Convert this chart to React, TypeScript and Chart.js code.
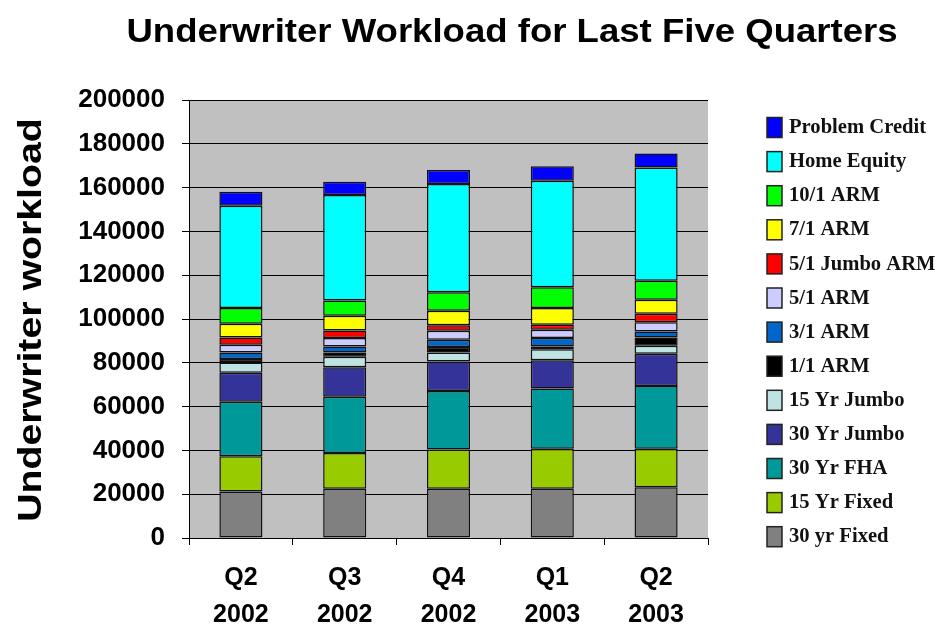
import React, { useEffect, useRef } from "react";
import { Chart, registerables } from "chart.js";

Chart.register(...registerables);

// ---------- data ----------
const chartTitle = "Underwriter Workload for Last Five Quarters";
const yAxisTitle = "Underwriter workload";
const quarters = ["Q2", "Q3", "Q4", "Q1", "Q2"];
const years = ["2002", "2002", "2002", "2003", "2003"];
const yTickValues = [0, 20000, 40000, 60000, 80000, 100000, 120000, 140000, 160000, 180000, 200000];

const fixed30 = [21200, 22500, 22500, 22500, 23200];
const fixed15 = [16100, 16300, 17900, 18300, 17600];
const fha30 = [24900, 25700, 26700, 27500, 28600];
const jumbo30 = [13300, 13500, 13500, 12900, 14700];
const jumbo15 = [4600, 4800, 4100, 5000, 3700];
const arm11 = [1600, 1900, 2500, 1200, 3700];
const arm31 = [3000, 2700, 3300, 3900, 2800];
const arm51 = [3500, 3900, 4100, 3800, 4200];
const jumboArm51 = [3400, 3500, 2500, 2300, 3900];
const arm71 = [6200, 6700, 6700, 7600, 6400];
const arm101 = [7200, 7000, 8400, 9500, 8700];
const homeEquity = [46700, 48100, 49400, 48600, 51700];
const problemCredit = [6400, 6100, 6400, 6600, 6400];

const seriesNames = [
  "30 yr Fixed",
  "15 Yr Fixed",
  "30 Yr FHA",
  "30 Yr Jumbo",
  "15 Yr Jumbo",
  "1/1 ARM",
  "3/1 ARM",
  "5/1 ARM",
  "5/1 Jumbo ARM",
  "7/1 ARM",
  "10/1 ARM",
  "Home Equity",
  "Problem Credit",
];
const seriesValues = [
  fixed30, fixed15, fha30, jumbo30, jumbo15, arm11, arm31, arm51,
  jumboArm51, arm71, arm101, homeEquity, problemCredit,
];
const seriesColors = [
  "#808080", "#99CC00", "#009999", "#333399", "#BDE3E3", "#000000", "#0066CC",
  "#CCCCFF", "#FF0000", "#FFFF00", "#00FF00", "#00FFFF", "#0000FF",
];

// ---------- plugins ----------
const SANS = "'Liberation Sans', Arial, Helvetica, sans-serif";
const SERIF = "'Liberation Serif', 'Times New Roman', serif";

const plotBackground = {
  id: "plotBackground",
  beforeDraw(chart: any) {
    const { ctx, chartArea } = chart;
    ctx.save();
    ctx.fillStyle = "#C0C0C0";
    ctx.fillRect(chartArea.left, chartArea.top, chartArea.right - chartArea.left, chartArea.bottom - chartArea.top);
    ctx.restore();
  },
};

const titlesPlugin = {
  id: "titlesPlugin",
  afterDraw(chart: any) {
    const { ctx, chartArea } = chart;
    // main title
    ctx.save();
    ctx.fillStyle = "#000";
    ctx.font = `bold 34px ${SANS}`;
    ctx.textAlign = "center";
    ctx.textBaseline = "alphabetic";
    ctx.translate(512, 41.5);
    ctx.scale(1.075, 1);
    ctx.fillText(chartTitle, 0, 0);
    ctx.restore();
    // y axis title
    ctx.save();
    ctx.fillStyle = "#000";
    ctx.font = `bold 33px ${SANS}`;
    ctx.textAlign = "center";
    ctx.textBaseline = "alphabetic";
    ctx.translate(29, (chartArea.top + chartArea.bottom) / 2 + 1);
    ctx.rotate(-Math.PI / 2);
    ctx.scale(1.19, 1);
    ctx.fillText(yAxisTitle, 0, 11.5);
    ctx.restore();
  },
};

const legendPlugin = {
  id: "sideLegend",
  afterDraw(chart: any) {
    const { ctx } = chart;
    const ds = chart.data.datasets;
    ctx.save();
    ctx.textAlign = "left";
    ctx.textBaseline = "middle";
    for (let i = 0; i < ds.length; i++) {
      const d = ds[ds.length - 1 - i];
      const top = 117.5 + i * 34.1;
      ctx.fillStyle = d.backgroundColor;
      ctx.fillRect(767, top, 15, 20);
      ctx.lineWidth = 1.5;
      ctx.strokeStyle = "#222";
      ctx.strokeRect(767, top, 15, 20);
      ctx.fillStyle = "#111";
      ctx.save();
      ctx.font = `bold 20px ${SERIF}`;
      ctx.translate(789, top + 10.5);
      ctx.scale(1.03, 1);
      ctx.fillText(d.label, 0, 0);
      ctx.restore();
    }
    ctx.restore();
  },
};

export default function App() {
  const canvasRef = useRef<HTMLCanvasElement | null>(null);

  useEffect(() => {
    if (!canvasRef.current) return;
    const chart = new Chart(canvasRef.current, {
      type: "bar",
      data: {
        labels: quarters.map((q, i) => [q, years[i]]),
        datasets: seriesNames.map((name, i) => ({
          label: name,
          data: seriesValues[i],
          backgroundColor: seriesColors[i],
          borderColor: "#111",
          borderWidth: 1.5,
          borderSkipped: false,
          barPercentage: 0.415,
          categoryPercentage: 1,
        })),
      },
      options: {
        responsive: false,
        animation: false,
        events: [],
        layout: { padding: { top: 100, right: 232, bottom: 0, left: 0 } },
        plugins: {
          legend: { display: false },
          title: { display: false },
          tooltip: { enabled: false },
        },
        scales: {
          x: {
            stacked: true,
            afterFit(scale: any) {
              scale.height = 91;
            },
            grid: {
              display: true,
              drawOnChartArea: false,
              drawTicks: true,
              tickLength: 7,
              color: "#000",
              lineWidth: 1,
              offset: true,
            },
            border: { display: true, color: "#000", width: 1 },
            ticks: {
              color: "#000",
              padding: 15,
              maxRotation: 0,
              font: { family: SANS, size: 25, weight: "bold", lineHeight: 1.48 },
            },
          },
          y: {
            stacked: true,
            min: 0,
            max: 200000,
            afterFit(scale: any) {
              scale.width = 189;
            },
            afterBuildTicks(scale: any) {
              scale.ticks = yTickValues.map((v) => ({ value: v }));
            },
            grid: {
              color: "#000",
              lineWidth: 1,
              drawTicks: true,
              tickLength: 7,
            },
            border: { display: true, color: "#000", width: 1 },
            ticks: {
              color: "#000",
              padding: 17,
              font: { family: SANS, size: 26, weight: "bold" },
              callback: (v: any) => String(v),
            },
          },
        },
      },
      plugins: [plotBackground, titlesPlugin, legendPlugin],
    });
    return () => chart.destroy();
  }, []);

  return (
    <div style={{ position: "fixed", left: 0, top: 0, width: 940, height: 629, background: "#fff" }}>
      <canvas ref={canvasRef} width={940} height={629} style={{ display: "block" }} />
    </div>
  );
}
